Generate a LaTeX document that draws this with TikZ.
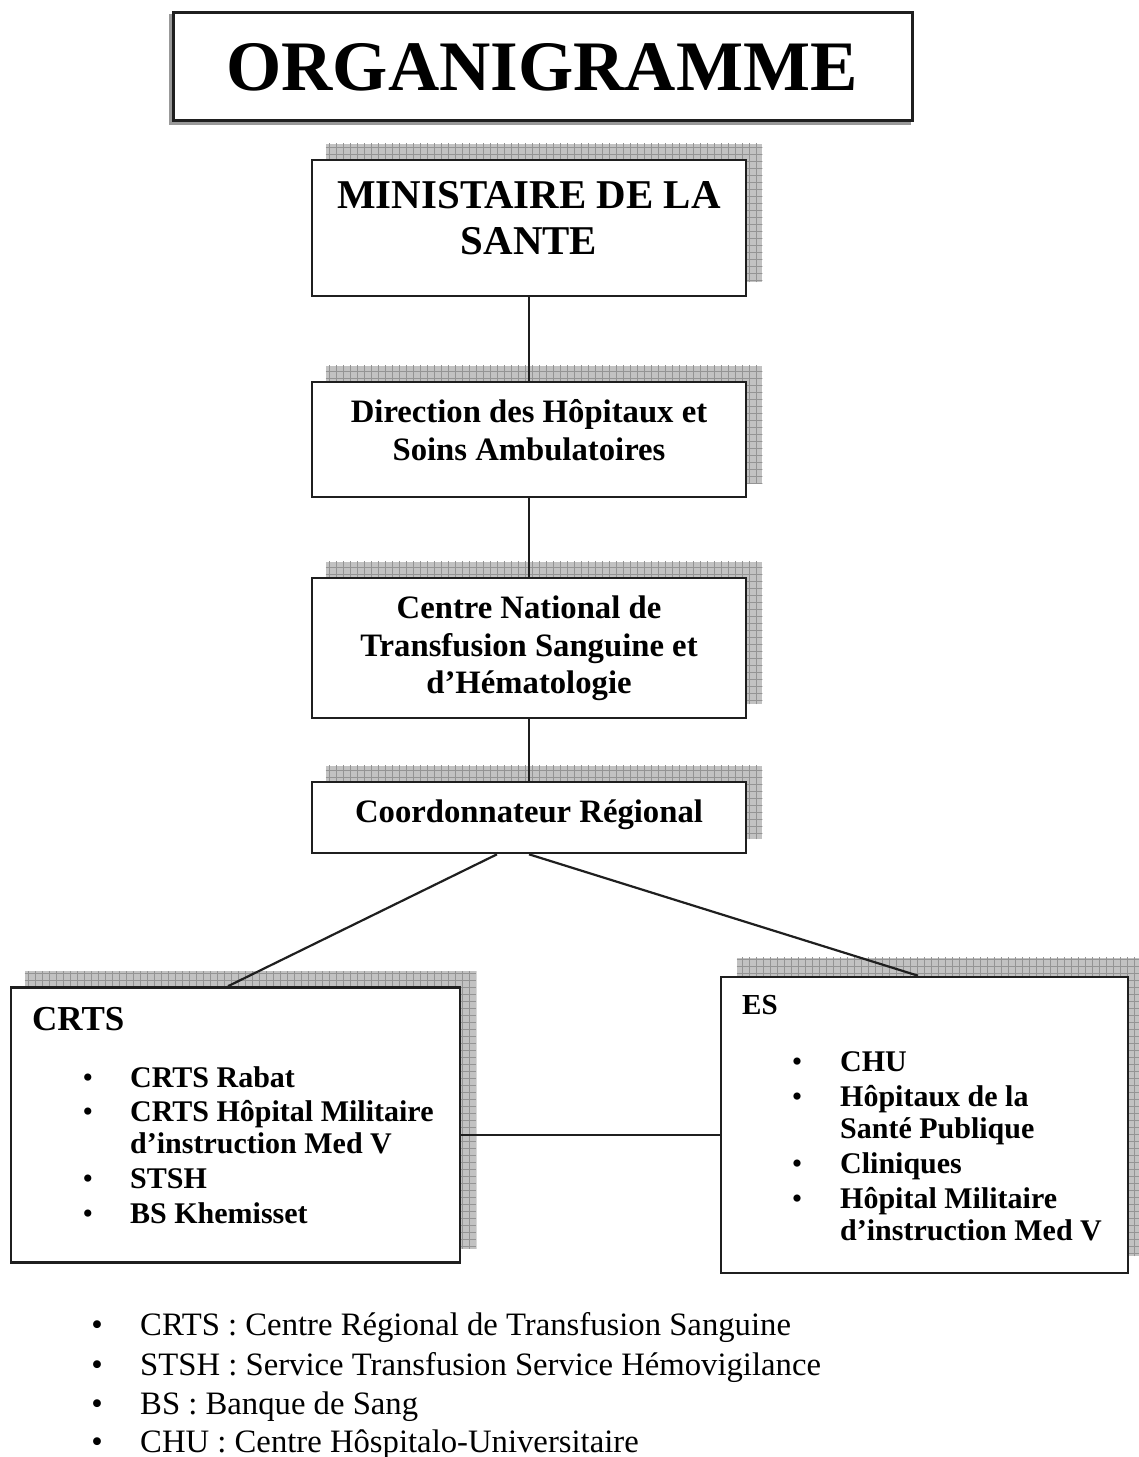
\documentclass[tikz,border=0pt]{standalone}
\usepackage{fontspec}
\setmainfont{Liberation Serif}
\usetikzlibrary{backgrounds}
\newcommand\gridshadow[3]{%
  \fill[shadowfill] ([shift={(#2,-#3)}]#1.south west) rectangle ([shift={(#2,-#3)}]#1.north east);
  \begin{scope}
    \clip ([shift={(#2,-#3)}]#1.south west) rectangle ([shift={(#2,-#3)}]#1.north east);
    \draw[shadowgrid] ([shift={(#2,-#3)}]#1.south west) grid ([shift={(#2+7,-#3-7)}]#1.north east);
  \end{scope}
}
\begin{document}
\begin{tikzpicture}[x=1pt,y=-1pt,
  shadowfill/.style={fill=black!24},
  shadowgrid/.style={draw=black!42, line width=1pt, step=7pt},
  box/.style={draw=black!88, line width=2.6pt, fill=white, inner sep=0pt, rectangle},
  conn/.style={draw=black!88, line width=2.2pt},
  ttlfont/.style={font=\bfseries\fontsize{71}{80}\selectfont, anchor=base, inner sep=0pt},
  big/.style={font=\bfseries\fontsize{40.9}{46}\selectfont, anchor=base, inner sep=0pt},
  hdr/.style={font=\bfseries\fontsize{32.7}{38}\selectfont, anchor=base, inner sep=0pt},
  item/.style={font=\bfseries\fontsize{30}{35}\selectfont, anchor=base west, inner sep=0pt},
  bul/.style={font=\fontsize{30}{35}\selectfont, anchor=base, inner sep=0pt},
  leg/.style={font=\fontsize{32.7}{39}\selectfont, anchor=base west, inner sep=0pt},
  legbul/.style={font=\fontsize{32.7}{39}\selectfont, anchor=base, inner sep=0pt},
]
\useasboundingbox (0,0) rectangle (1139,1457);

% boxes
\node[box, line width=3pt, minimum width=739, minimum height=108] (tbox) at (542.5,66) {};
\node[box, minimum width=434, minimum height=136] (min) at (529,228) {};
\node[box, minimum width=434, minimum height=115] (dir) at (529,439.5) {};
\node[box, minimum width=434, minimum height=140] (cnts) at (529,648) {};
\node[box, minimum width=434, minimum height=71] (coord) at (529,817.5) {};
\node[box, minimum width=449, minimum height=275] (crts) at (235.5,1125) {};
\node[box, minimum width=407, minimum height=296] (es) at (924.5,1125) {};

\begin{scope}[on background layer]
  \fill[black!40] ([shift={(-3,3)}]tbox.south west) rectangle ([shift={(-3,3)}]tbox.north east);
  \gridshadow{min}{15}{15}
  \gridshadow{dir}{15}{15}
  \gridshadow{cnts}{15}{15}
  \gridshadow{coord}{15}{15}
  \gridshadow{crts}{15}{15}
  \gridshadow{es}{17}{18}
\end{scope}

% texts
\node[ttlfont] (ttl) at (542,90) {ORGANIGRAMME};
\node[big] (min1) at (529,208) {MINISTAIRE DE LA};
\node[big] (min2) at (529,254) {SANTE};
\node[hdr] (dir1) at (529,422) {Direction des Hôpitaux et};
\node[hdr] (dir2) at (529,460) {Soins Ambulatoires};
\node[hdr] (cn1) at (529,618) {Centre National de};
\node[hdr] (cn2) at (529,656) {Transfusion Sanguine et};
\node[hdr] (cn3) at (529,693) {d’Hématologie};
\node[hdr] (co1) at (529,822) {Coordonnateur Régional};

\node[font=\bfseries\fontsize{35}{40}\selectfont, anchor=base west, inner sep=0pt] (crtsh) at (32,1030) {CRTS};
\node[bul] (cb1) at (88,1087) {\textbullet};
\node[item] (ci1) at (130,1087) {CRTS Rabat};
\node[bul] (cb2) at (88,1121) {\textbullet};
\node[item] (ci2) at (130,1121) {CRTS Hôpital Militaire};
\node[item] (ci2b) at (130,1153) {d’instruction Med V};
\node[bul] (cb3) at (88,1188) {\textbullet};
\node[item] (ci3) at (130,1188) {STSH};
\node[bul] (cb4) at (88,1223) {\textbullet};
\node[item] (ci4) at (130,1223) {BS Khemisset};

\node[font=\bfseries\fontsize{29}{34}\selectfont, anchor=base west, inner sep=0pt] (esh) at (742,1014) {ES};
\node[bul] (eb1) at (797,1071) {\textbullet};
\node[item] (ei1) at (840,1071) {CHU};
\node[bul] (eb2) at (797,1106) {\textbullet};
\node[item] (ei2) at (840,1106) {Hôpitaux de la};
\node[item] (ei2b) at (840,1138) {Santé Publique};
\node[bul] (eb3) at (797,1173) {\textbullet};
\node[item] (ei3) at (840,1173) {Cliniques};
\node[bul] (eb4) at (797,1208) {\textbullet};
\node[item] (ei4) at (840,1208) {Hôpital Militaire};
\node[item] (ei4b) at (840,1240) {d’instruction Med V};

% legend
\node[legbul] (lb1) at (97,1335) {\textbullet};
\node[leg] (l1) at (140,1335) {CRTS : Centre Régional de Transfusion Sanguine};
\node[legbul] (lb2) at (97,1375) {\textbullet};
\node[leg] (l2) at (140,1375) {STSH : Service Transfusion Service Hémovigilance};
\node[legbul] (lb3) at (97,1414) {\textbullet};
\node[leg] (l3) at (140,1414) {BS : Banque de Sang};
\node[legbul] (lb4) at (97,1452) {\textbullet};
\node[leg] (l4) at (140,1452) {CHU : Centre Hôspitalo-Universitaire};

% connectors
\draw[conn] (min.south) -- (dir.north);
\draw[conn] (dir.south) -- (cnts.north);
\draw[conn] (cnts.south) -- (coord.north);
\coordinate (cl) at ([xshift=-32pt]coord.south);
\coordinate (crtstop) at ([xshift=-7.5pt]crts.north);
\coordinate (estop) at ([xshift=-6.5pt]es.north);
\draw[conn] (cl) -- (crtstop);
\draw[conn] (coord.south) -- (estop);
\coordinate (crtsr) at ([yshift=-10pt]crts.east);
\coordinate (esl) at ([yshift=-10pt]es.west);
\draw[conn] (crtsr) -- (esl);
\end{tikzpicture}
\end{document}
